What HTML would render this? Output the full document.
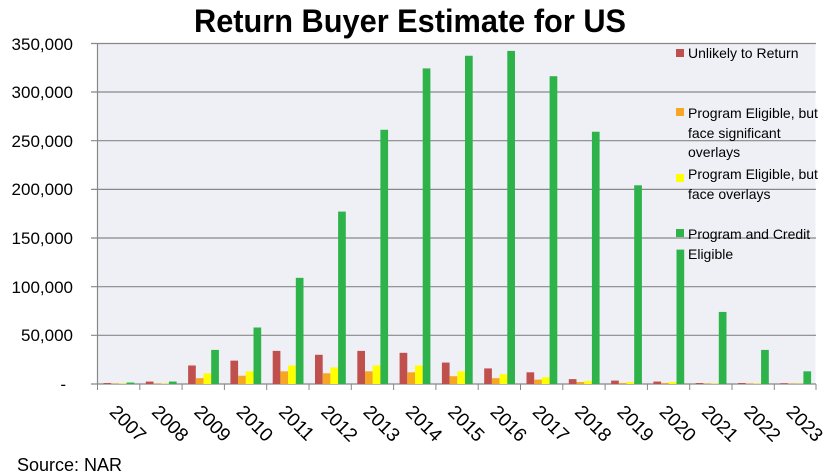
<!DOCTYPE html>
<html><head><meta charset="utf-8"><style>
body{margin:0;background:#fff;}
svg{display:block;font-family:"Liberation Sans",sans-serif;}
</style></head><body>
<svg width="839" height="476" xmlns="http://www.w3.org/2000/svg">
<rect width="839" height="476" fill="#fff"/>
<text x="410" y="32" text-anchor="middle" font-size="32" font-weight="bold" textLength="432" lengthAdjust="spacingAndGlyphs">Return Buyer Estimate for US</text>
<rect x="97.5" y="43.5" width="718" height="340.5" fill="#eef0f5"/>
<g stroke="#888" stroke-width="1.2">
<line x1="91" y1="43.5" x2="816" y2="43.5"/>
<line x1="91" y1="92" x2="816" y2="92"/>
<line x1="91" y1="140.7" x2="816" y2="140.7"/>
<line x1="91" y1="189.4" x2="816" y2="189.4"/>
<line x1="91" y1="238" x2="816" y2="238"/>
<line x1="91" y1="286.7" x2="816" y2="286.7"/>
<line x1="91" y1="335.3" x2="816" y2="335.3"/>
<line x1="91" y1="384" x2="816" y2="384"/>
<line x1="97.5" y1="43.5" x2="97.5" y2="384"/>
</g>
<g font-size="17" text-anchor="end" fill="#000">
<text x="73" y="50">350,000</text>
<text x="73" y="98">300,000</text>
<text x="73" y="147">250,000</text>
<text x="73" y="195">200,000</text>
<text x="73" y="244">150,000</text>
<text x="73" y="293">100,000</text>
<text x="73" y="341">50,000</text>
<text x="66" y="390">-</text>
</g>
<g id="bars"></g>
<g id="xl" font-size="19"></g>
<g font-size="14">
<rect x="676" y="49" width="8" height="8" fill="#c0504d"/><text x="688" y="58">Unlikely to Return</text>
<rect x="676" y="108" width="8" height="8" fill="#f5a623"/><text x="688" y="118">Program Eligible, but</text><text x="688" y="138">face significant</text><text x="688" y="157">overlays</text>
<rect x="676" y="174" width="8" height="8" fill="#ffff00"/><text x="688" y="179">Program Eligible, but</text><text x="688" y="199">face overlays</text>
<rect x="676" y="229" width="8" height="8" fill="#2db34a"/><text x="688" y="239">Program and Credit</text><text x="688" y="259">Eligible</text>
</g>
<text x="17" y="471" font-size="18">Source: NAR</text>
<script>
var d=[[1000,500,500,1500],[2500,500,500,2500],[19000,6000,11000,35000],[24000,8500,13000,58000],[34000,13000,19000,109000],[30000,11000,17000,177000],[34000,13000,19000,261000],[32000,12000,19000,324000],[22000,8000,13000,337000],[16000,6000,10000,342000],[12000,4500,7000,316000],[5000,2000,3000,259000],[3500,1000,2000,204000],[2500,1000,2000,138000],[1000,500,500,74000],[1000,500,500,35000],[800,500,300,13000]];
var c=["#c0504d","#f5a623","#ffff00","#2db34a"];
var ns="http://www.w3.org/2000/svg",b=document.getElementById("bars"),xl=document.getElementById("xl");
for(var i=0;i<17;i++){var t=97.5+42.3*i;
 for(var j=0;j<4;j++){var h=d[i][j]/50000*48.7;var r=document.createElementNS(ns,"rect");
 r.setAttribute("x",t+6+j*7.7);r.setAttribute("width",7.7);r.setAttribute("y",384-h);r.setAttribute("height",h);r.setAttribute("fill",c[j]);b.appendChild(r);}
 var l=document.createElementNS(ns,"line");l.setAttribute("x1",t);l.setAttribute("x2",t);l.setAttribute("y1",384);l.setAttribute("y2",390);l.setAttribute("stroke","#888");b.appendChild(l);
 var tx=document.createElementNS(ns,"text");var x=t+11,y=413;tx.setAttribute("x",x);tx.setAttribute("y",y);tx.setAttribute("transform","rotate(45 "+x+" "+y+")");tx.textContent=2007+i;xl.appendChild(tx);}
var l=document.createElementNS(ns,"line");l.setAttribute("x1",816);l.setAttribute("x2",816);l.setAttribute("y1",384);l.setAttribute("y2",390);l.setAttribute("stroke","#888");b.appendChild(l);
</script>
</svg>
</body></html>
